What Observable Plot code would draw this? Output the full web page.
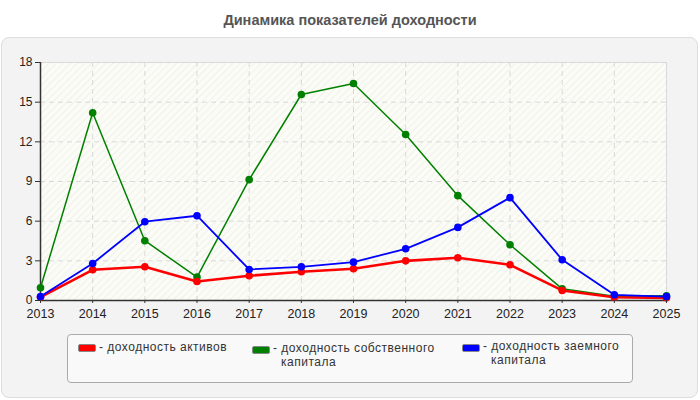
<!DOCTYPE html>
<html>
<head>
<meta charset="utf-8">
<script src="https://cdn.jsdelivr.net/npm/d3@7"></script>
<script src="https://cdn.jsdelivr.net/npm/@observablehq/plot@0.6"></script>
<style>
  html, body { margin: 0; padding: 0; background: #fff; }
  body { width: 700px; height: 400px; position: relative; overflow: hidden; font-family: "Liberation Sans", Arial, sans-serif; }
  #title { position: absolute; left: 0; top: 12px; width: 700px; text-align: center; font-weight: bold; font-size: 14.5px; color: #555; }
  #panel { position: absolute; left: 1px; top: 37px; width: 695px; height: 359px; background: #f3f3f3; border: 1px solid #ddd; border-radius: 8px; }
  #chart { position: absolute; left: 0; top: 40px; }
  #legend { position: absolute; left: 67px; top: 334px; width: 564px; height: 47px; background: #f9f9f9; border: 1px solid #aaa; border-radius: 4px; }
  .sw { position: absolute; width: 16px; height: 6px; border: 1px solid #888; border-radius: 2px; }
  .lt { position: absolute; font-size: 12px; letter-spacing: 0.5px; line-height: 13px; height: 13px; color: #333; white-space: nowrap; }
</style>
</head>
<body>
<div id="title">Динамика показателей доходности</div>
<div id="panel"></div>
<div id="chart"></div>
<div id="legend"></div>
<script>
const years = [2013, 2014, 2015, 2016, 2017, 2018, 2019, 2020, 2021, 2022, 2023, 2024, 2025];
const assets = [0.25, 2.32, 2.55, 1.44, 1.87, 2.17, 2.4, 3.0, 3.23, 2.7, 0.76, 0.25, 0.2];
const equity = [0.96, 14.2, 4.52, 1.77, 9.14, 15.58, 16.41, 12.55, 7.93, 4.22, 0.88, 0.33, 0.35];
const debt = [0.3, 2.8, 5.96, 6.41, 2.35, 2.55, 2.9, 3.91, 5.53, 7.78, 3.08, 0.43, 0.3];
const yTicks = [0, 3, 6, 9, 12, 15, 18];
const seriesColors = ["#ff0000", "#008000", "#0000ff"];
const legendLines = [
  ["- доходность активов"],
  ["- доходность собственного", "капитала"],
  ["- доходность заемного", "капитала"]
];

const toRows = (vals) => years.map((y, i) => ({ year: y, value: vals[i] }));
const rA = toRows(assets), rE = toRows(equity), rD = toRows(debt);

const chart = Plot.plot({
  width: 700,
  height: 280,
  marginLeft: 40,
  marginRight: 34,
  marginTop: 22,
  marginBottom: 20,
  style: { fontFamily: '"Liberation Sans", Arial, sans-serif', fontSize: "12.5px", color: "#222", background: "transparent" },
  x: { domain: [2013, 2025], ticks: years, tickFormat: "d", label: null },
  y: { domain: [0, 18], ticks: yTicks, label: null },
  marks: [
    Plot.frame({ fill: "url(#hatch)", stroke: "#ddd" }),
    Plot.gridY(yTicks, { stroke: "#d8d8d8", strokeOpacity: 1, strokeDasharray: "5,4" }),
    Plot.gridX(years, { stroke: "#d8d8d8", strokeOpacity: 1, strokeDasharray: "5,4" }),
    Plot.ruleY([0], { stroke: "#333", strokeWidth: 1.5 }),
    Plot.ruleX([2013], { stroke: "#333", strokeWidth: 1.5 }),
    Plot.line(rE, { x: "year", y: "value", stroke: seriesColors[1], strokeWidth: 1.5 }),
    Plot.dot(rE, { x: "year", y: "value", fill: seriesColors[1], r: 3.8 }),
    Plot.line(rA, { x: "year", y: "value", stroke: seriesColors[0], strokeWidth: 2.6 }),
    Plot.dot(rA, { x: "year", y: "value", fill: seriesColors[0], r: 3.8 }),
    Plot.line(rD, { x: "year", y: "value", stroke: seriesColors[2], strokeWidth: 1.8 }),
    Plot.dot(rD, { x: "year", y: "value", fill: seriesColors[2], r: 3.8 }),
    Plot.axisX({ ticks: years, tickFormat: "d", tickSize: 3, tickPadding: 6, stroke: "#333", fill: "#222", fontSize: 12.5 }),
    Plot.axisY({ ticks: yTicks, tickSize: 5, tickPadding: 3, stroke: "#333", fill: "#222", fontSize: 12 })
  ]
});

const svg = d3.select(chart);
const defs = svg.insert("defs", ":first-child");
const pat = defs.append("pattern").attr("id", "hatch").attr("patternUnits", "userSpaceOnUse")
  .attr("width", 5).attr("height", 5).attr("patternTransform", "rotate(45)");
pat.append("rect").attr("width", 5).attr("height", 5).attr("fill", "#fcfcf6");
pat.append("line").attr("x1", 0).attr("y1", 0).attr("x2", 0).attr("y2", 5).attr("stroke", "#ededea").attr("stroke-width", 1.5);
document.getElementById("chart").appendChild(chart);

const legend = document.getElementById("legend");
const pos = [
  { sx: 10, sy: 9, tx: 31, ty: 6, indent: 8, gap: 14 },
  { sx: 184, sy: 11, tx: 205, ty: 7, indent: 8, gap: 14 },
  { sx: 394, sy: 9, tx: 415, ty: 5, indent: 8, gap: 14 }
];
pos.forEach((p, i) => {
  const s = document.createElement("div");
  s.className = "sw";
  s.style.left = p.sx + "px"; s.style.top = p.sy + "px"; s.style.background = seriesColors[i];
  legend.appendChild(s);
  legendLines[i].forEach((line, j) => {
    const t = document.createElement("div");
    t.className = "lt";
    t.style.left = (p.tx + (j > 0 ? p.indent : 0)) + "px";
    t.style.top = (p.ty + j * p.gap) + "px";
    t.textContent = line;
    legend.appendChild(t);
  });
});
</script>
</body>
</html>
